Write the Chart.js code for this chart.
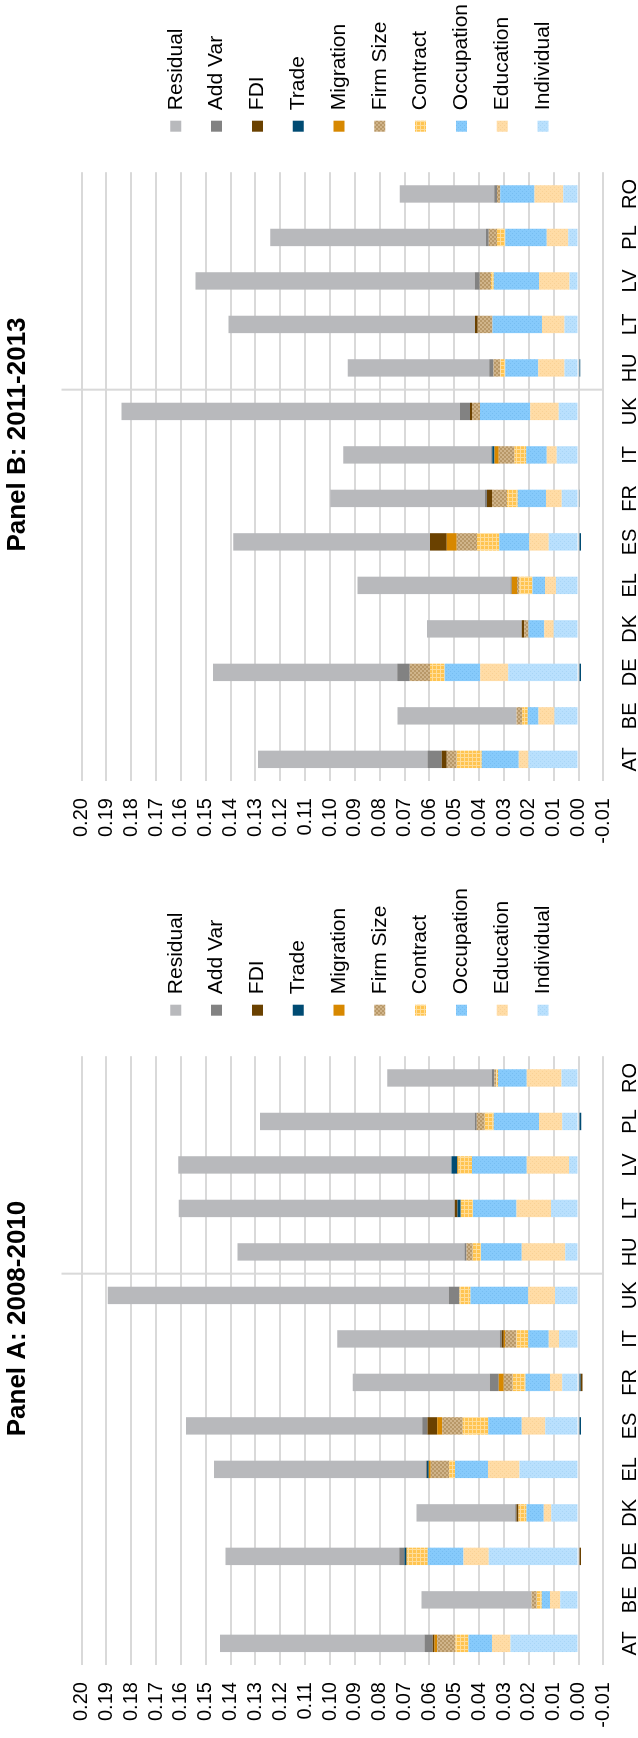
<!DOCTYPE html>
<html>
<head>
<meta charset="utf-8">
<script src="https://cdn.jsdelivr.net/npm/chart.js@4.4.1/dist/chart.umd.min.js"></script>
<style>
html, body { margin: 0; padding: 0; overflow: hidden; background: #fff; }
body { width: 638px; height: 1738px; position: relative; }
/* each panel is drawn as a normal column chart, then turned a quarter left */
.panel { position: absolute; left: 0; width: 884px; height: 638px; transform-origin: 0 0; transform: rotate(-90deg); }
</style>
</head>
<body>
<div class="panel" style="top:854px"><canvas id="chartB" width="884" height="638"></canvas></div>
<div class="panel" style="top:1738px"><canvas id="chartA" width="884" height="638"></canvas></div>
<script>
const countries = ['AT', 'BE', 'DE', 'DK', 'EL', 'ES', 'FR', 'IT', 'UK', 'HU', 'LT', 'LV', 'PL', 'RO'];
const tickMin = -0.01;
const tickMax = 0.20;
const tickStep = 0.01;

// Panel A: 2008-2010
const residualA   = [0.0823, 0.0443, 0.0700, 0.0397, 0.0852, 0.0951, 0.0552, 0.0654, 0.1372, 0.0913, 0.1111, 0.1100, 0.0864, 0.0421];
const addVarA     = [0.0033, 0, 0.0021, 0.0005, 0.0005, 0.0021, 0.0036, 0.0008, 0.0043, 0.0008, 0, 0, 0.0008, 0.0010];
const fdiA        = [0.0007, 0, -0.0010, 0.0008, 0, 0.0039, -0.0008, 0.0008, 0, 0, 0.0011, 0, 0, 0];
const tradeA      = [0, 0, 0.0008, 0, 0.0007, -0.0010, -0.0008, 0, 0, 0, 0.0013, 0.0023, -0.0011, 0];
const migrationA  = [0.0011, 0, 0.0003, 0, 0.0008, 0.0021, 0.0020, 0.0005, 0, 0, 0, 0.0005, 0, 0];
const firmSizeA   = [0.0074, 0.0021, 0, 0, 0.0075, 0.0082, 0.0036, 0.0046, 0, 0.0025, 0, 0, 0.0033, 0.0008];
const contractA   = [0.0052, 0.0020, 0.0082, 0.0033, 0.0023, 0.0103, 0.0052, 0.0048, 0.0044, 0.0033, 0.0049, 0.0054, 0.0036, 0.0007];
const occupationA = [0.0095, 0.0033, 0.0144, 0.0069, 0.0133, 0.0134, 0.0098, 0.0082, 0.0233, 0.0164, 0.0175, 0.0221, 0.0182, 0.0116];
const educationA  = [0.0074, 0.0041, 0.0102, 0.0030, 0.0126, 0.0095, 0.0049, 0.0041, 0.0107, 0.0175, 0.0139, 0.0170, 0.0093, 0.0139];
const individualA = [0.0274, 0.0074, 0.0361, 0.0110, 0.0238, 0.0134, 0.0066, 0.0079, 0.0095, 0.0054, 0.0111, 0.0038, 0.0066, 0.0069];

// Panel B: 2011-2013
const residualB   = [0.0682, 0.0478, 0.0742, 0.0381, 0.0615, 0.0791, 0.0623, 0.0596, 0.1362, 0.0570, 0.0992, 0.1123, 0.0869, 0.0380];
const addVarB     = [0.0058, 0, 0.0050, 0, 0.0005, 0, 0.0008, 0.0004, 0.0040, 0.0017, 0, 0.0020, 0.0011, 0.0011];
const fdiB        = [0.0020, 0, 0, 0.0011, 0, 0.0068, 0.0020, 0, 0.0008, 0, 0.0011, 0, 0, 0];
const tradeB      = [0, 0, -0.0010, 0, 0, -0.0010, -0.0005, 0.0009, 0, -0.0007, 0, 0, 0, 0];
const migrationB  = [0, 0, 0, 0, 0.0021, 0.0040, 0, 0.0017, 0, 0, 0, 0, 0, 0];
const firmSizeB   = [0.0040, 0.0023, 0.0081, 0.0017, 0.0009, 0.0081, 0.0060, 0.0063, 0.0032, 0.0027, 0.0060, 0.0046, 0.0033, 0.0013];
const contractB   = [0.0101, 0.0023, 0.0060, 0, 0.0054, 0.0090, 0.0043, 0.0048, 0, 0.0020, 0, 0.0011, 0.0033, 0];
const occupationB = [0.0148, 0.0043, 0.0142, 0.0063, 0.0050, 0.0121, 0.0114, 0.0082, 0.0203, 0.0133, 0.0199, 0.0182, 0.0167, 0.0138];
const educationB  = [0.0040, 0.0064, 0.0113, 0.0038, 0.0044, 0.0078, 0.0063, 0.0040, 0.0114, 0.0105, 0.0090, 0.0123, 0.0087, 0.0115];
const individualB = [0.0201, 0.0097, 0.0283, 0.0100, 0.0091, 0.0120, 0.0068, 0.0088, 0.0080, 0.0057, 0.0057, 0.0036, 0.0041, 0.0062];

const fontFamily = "'Liberation Sans', Arial, sans-serif";
Chart.defaults.font.family = fontFamily;
Chart.defaults.color = '#000';

// small textured fills like the excel ones
function texture(base, ink, kind) {
  const c = document.createElement('canvas');
  c.width = 4; c.height = 4;
  const g = c.getContext('2d');
  g.fillStyle = base;
  g.fillRect(0, 0, 4, 4);
  g.fillStyle = ink;
  if (kind === 'check') {
    g.fillRect(0, 0, 2, 2);
    g.fillRect(2, 2, 2, 2);
  } else if (kind === 'grid') {
    g.fillRect(0, 0, 4, 1);
    g.fillRect(0, 0, 1, 4);
  } else {
    g.fillRect(0, 0, 1, 1);
    g.fillRect(2, 2, 1, 1);
  }
  return g.createPattern(c, 'repeat');
}

// bottom of the stack first; legend is shown reversed
const seriesNames = ['Individual', 'Education', 'Occupation', 'Contract', 'Firm Size', 'Migration', 'Trade', 'FDI', 'Add Var', 'Residual'];
const seriesFills = [
  texture('#b9e0fd', '#a8d5f6', 'dot'),
  texture('#ffdca6', '#f9d195', 'dot'),
  texture('#86cafb', '#76bdf1', 'dot'),
  texture('#ffc450', '#ffdd99', 'grid'),
  texture('#d0b48a', '#b89868', 'check'),
  '#d78800',
  '#004b73',
  '#6a4100',
  '#828282',
  '#b8b9bc'
];

// legend sizes, so the plot keeps its right edge whatever the text width
const legendFont = 21;
const legendPad = 19.8;
const legendBox = 11;
let measure = document.createElement('canvas').getContext('2d');
measure.font = legendFont + 'px ' + fontFamily;
let longest = 0;
seriesNames.forEach(function (s) { longest = Math.max(longest, measure.measureText(s).width); });
const legendWidth = legendPad + legendBox + legendFont / 2 + longest + 10;
const plotRight = 681.8;
const rightPad = Math.max(0, 884 - plotRight - legendWidth);

const panelDecor = {
  id: 'panelDecor',
  afterLayout(chart) {
    // put the legend where it sits in the picture
    const lg = chart.legend;
    const dx = 702.5 - lg.left;
    const dy = 145.5 - lg.top;
    lg.left += dx; lg.right += dx;
    lg.top += dy; lg.bottom += dy;
  },
  beforeDatasetsDraw(chart) {
    // line between the old and new member states
    const {ctx, chartArea} = chart;
    const x = chart.scales.x;
    const y = chart.scales.y;
    const sx = (x.getPixelForValue(8) + x.getPixelForValue(9)) / 2;
    ctx.save();
    ctx.strokeStyle = '#d9d9d9';
    ctx.lineWidth = 2;
    ctx.beginPath();
    ctx.moveTo(sx, chartArea.top - 20);
    ctx.lineTo(sx, y.getPixelForValue(tickMin));
    ctx.stroke();
    ctx.restore();
  },
  afterDraw(chart, args, opts) {
    const ctx = chart.ctx;
    ctx.save();
    ctx.font = 'bold 26px ' + fontFamily;
    ctx.fillStyle = '#000';
    ctx.textAlign = 'center';
    ctx.textBaseline = 'middle';
    ctx.fillText(opts.text, 419.5, 18);
    ctx.restore();
  }
};

function draw_panel(id, title, values) {
  let my_datasets = [];
  for (let i = 0; i < seriesNames.length; i++) {
    my_datasets[i] = {
      label: seriesNames[i],
      data: values[i],
      backgroundColor: seriesFills[i],
      borderWidth: 0,
      barPercentage: 0.4,
      categoryPercentage: 1
    };
  }

  return new Chart(document.getElementById(id), {
    type: 'bar',
    data: { labels: countries, datasets: my_datasets },
    plugins: [panelDecor],
    options: {
      responsive: false,
      animation: false,
      layout: { padding: { top: 81.5, right: rightPad, bottom: 0, left: 0 } },
      plugins: {
        panelDecor: { text: title },
        tooltip: { enabled: false },
        title: { display: false },
        legend: {
          position: 'right',
          align: 'start',
          reverse: true,
          labels: {
            boxWidth: legendBox,
            boxHeight: legendBox,
            padding: legendPad,
            font: { size: legendFont },
            color: '#000'
          }
        }
      },
      scales: {
        x: {
          stacked: true,
          grid: { display: false, drawTicks: false },
          border: { display: false },
          ticks: { font: { size: 20 }, padding: 15, maxRotation: 0, autoSkip: false },
          afterFit(scale) { scale.height = 34.6; }
        },
        y: {
          stacked: true,
          min: tickMin,
          max: tickMax,
          grid: { color: '#d9d9d9', lineWidth: 2, drawTicks: false },
          border: { display: false },
          ticks: {
            stepSize: tickStep,
            maxTicksLimit: 30,
            autoSkip: false,
            padding: 17,
            font: { size: 20 },
            callback: function (v) { return Number(v).toFixed(2); }
          },
          afterFit(scale) { scale.width = 72.9; }
        }
      }
    }
  });
}

draw_panel('chartA', 'Panel A: 2008-2010',
  [individualA, educationA, occupationA, contractA, firmSizeA, migrationA, tradeA, fdiA, addVarA, residualA]);
draw_panel('chartB', 'Panel B: 2011-2013',
  [individualB, educationB, occupationB, contractB, firmSizeB, migrationB, tradeB, fdiB, addVarB, residualB]);
</script>
</body>
</html>
